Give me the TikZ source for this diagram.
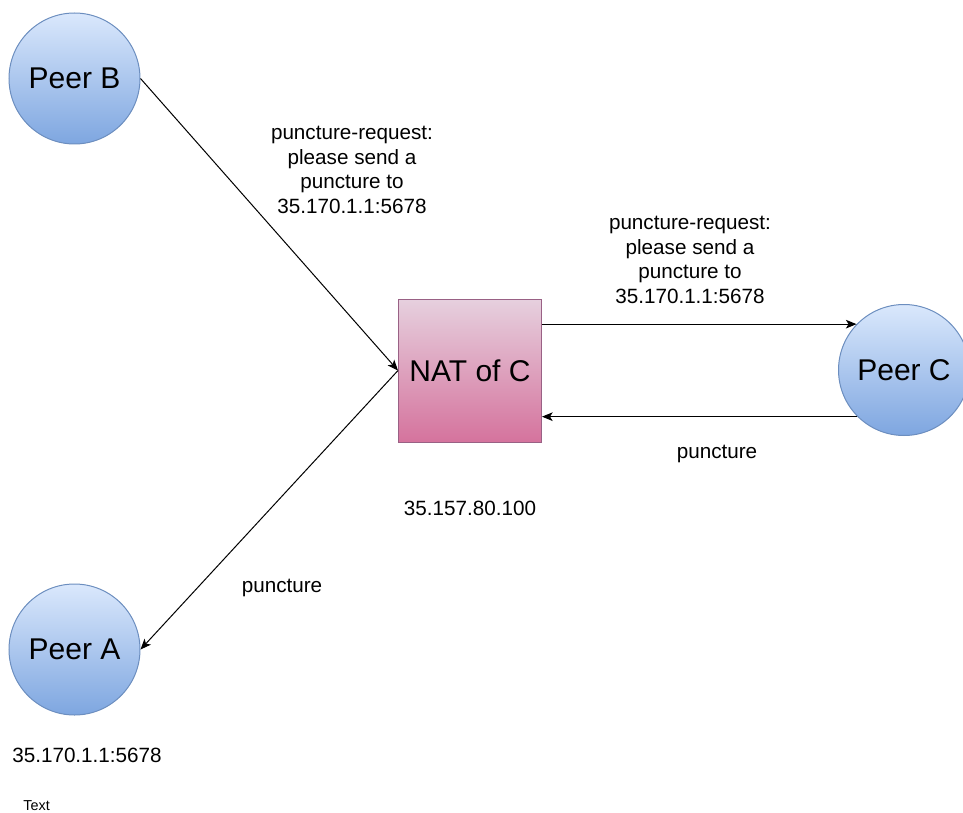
\documentclass[tikz,border=0pt]{standalone}
\usepackage{fontspec}
\setmainfont{Liberation Sans}
\usetikzlibrary{arrows.meta}
\definecolor{peerTop}{HTML}{DAE8FC}
\definecolor{peerBot}{HTML}{7EA6E0}
\definecolor{peerLine}{HTML}{6C8EBF}
\definecolor{natTop}{HTML}{E6D0DE}
\definecolor{natBot}{HTML}{D5739D}
\definecolor{natLine}{HTML}{996185}
\tikzset{
  peer/.style={circle, minimum size=98.25pt, inner sep=0, draw=peerLine, line width=0.75pt,
    top color=peerTop, bottom color=peerBot, font=\fontsize{22.5}{27}\selectfont},
  natbox/.style={rectangle, minimum size=107.25pt, inner sep=0, draw=natLine, line width=0.75pt,
    top color=natTop, bottom color=natBot, font=\fontsize{22.5}{27}\selectfont},
  msg/.style={align=center, inner sep=0, font=\fontsize{15.5}{18.4}\selectfont},
  link/.style={line width=0.75pt, -{Stealth[length=8pt, width=6.5pt, inset=2pt]}},
}
\begin{document}
\begin{tikzpicture}[x=0.75pt, y=-0.75pt]
  \useasboundingbox (0,0) rectangle (963,813);

  % peers and the NAT box
  \node[peer] (pb) at (74.5,78.5) {Peer B};
  \node[peer] (pa) at (74.5,649.5) {Peer A};
  \node[peer] (pc) at (904,370) {Peer C};
  \node[natbox] (nat) at (470,370.5) {NAT of C};

  % messages
  \draw[link] (pb.east) -- (nat.west);
  \draw[link] (nat.west) -- (pa.east);
  \draw[link] (nat.east |- pc.136) -- (pc.136);
  \draw[link] (pc.225) -- (nat.east |- pc.225);

  % labels
  \node[msg] (l1) at (352,170) {puncture-request:\\please send a\\puncture to\\35.170.1.1:5678};
  \node[msg] (l2) at (690,260) {puncture-request:\\please send a\\puncture to\\35.170.1.1:5678};
  \node[msg] (l3) at (717,454) {puncture};
  \node[msg] (l4) at (282,588) {puncture};
  \node[msg] (natip) at (470,508) {35.157.80.100};
  \node[msg] (aip) at (87,755) {35.170.1.1:5678};
  \node[inner sep=0, font=\fontsize{10.8}{13}\selectfont] (txt) at (36.7,805.5) {Text};
\end{tikzpicture}
\end{document}
